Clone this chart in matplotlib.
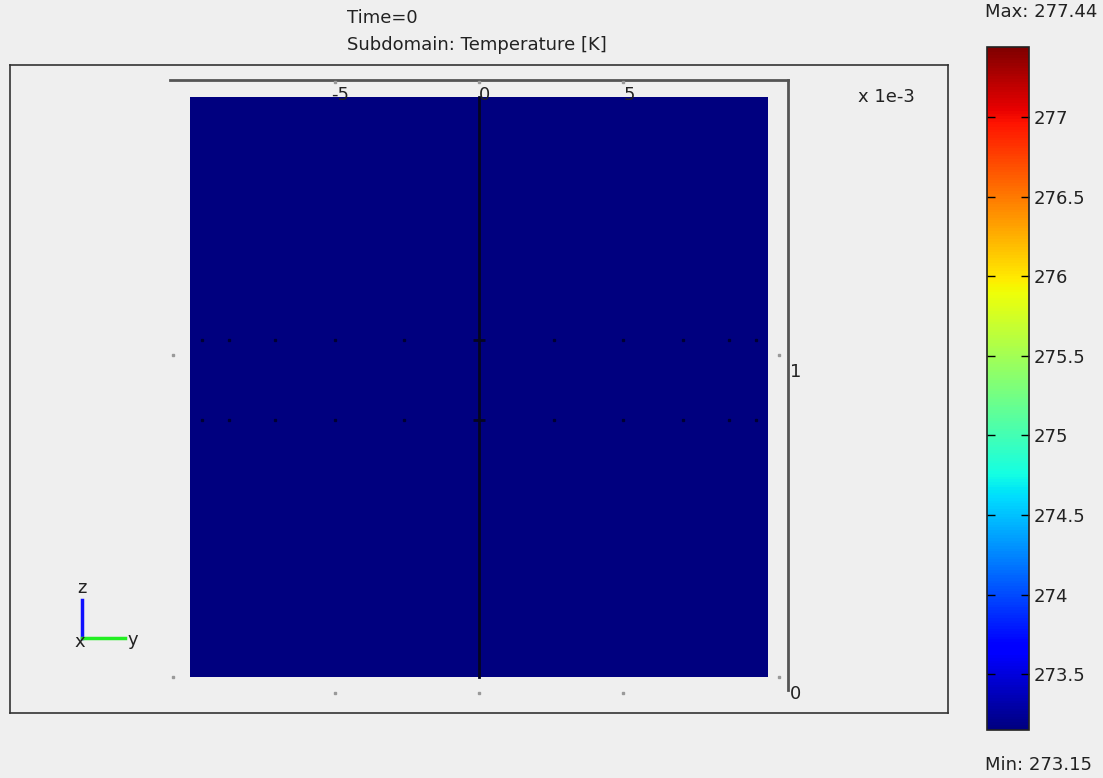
import numpy as np
import matplotlib.pyplot as plt
from matplotlib.lines import Line2D

# subdomain geometry [mm] and temperature field at Time=0
y_extent = [-10, 10]
z_extent = [0, 1.8]
temperature = np.full((2, 2), 273.15)
t_min, t_max = 273.15, 277.44
cbar_ticks = [273.5, 274, 274.5, 275, 275.5, 276, 276.5, 277]
y_ticks = [-5, 0, 5]
z_ticks = [0, 1]
boundary_y = 0
point_y = [-9.6, -8.65, -7.05, -5, -2.6, 2.6, 5, 7.05, 8.65, 9.6]
point_z = [1.047, 0.798]

W, H = 1103, 778
bg = '#efefef'
fs = 13
fig = plt.figure(figsize=(W / 100, H / 100), dpi=100, facecolor=bg)


def frac(x0, y0, x1, y1):
    # pixel box (top-left origin) -> figure fraction
    return [x0 / W, 1 - y1 / H, (x1 - x0) / W, (y1 - y0) / H]


ax = fig.add_axes(frac(10, 65, 948, 713))
ax.set_facecolor(bg)
ax.set_xlim(-16.23, 16.23)
ax.set_ylim(-0.1118, 1.9006)
ax.set_xticks([])
ax.set_yticks([])
for s in ax.spines.values():
    s.set_color('#333333')
    s.set_linewidth(1.2)

im = ax.imshow(temperature, cmap='jet', vmin=t_min, vmax=t_max,
               extent=y_extent + z_extent, origin='lower',
               aspect='auto', interpolation='nearest', zorder=2)

# subdomain boundary and mesh points
ax.plot([boundary_y, boundary_y], z_extent, color='#050520', lw=2, zorder=3)
for z in point_z:
    ax.plot(point_y, [z] * len(point_y), ls='none', marker='s',
            ms=1.4, color='#000033', zorder=3)
    ax.plot([boundary_y], [z], ls='none', marker='_', ms=9, mew=2,
            color='#050520', zorder=3)

# 3D axis box lines
box_y, box_z = 10.7, 1.854
ax.plot([-box_y, box_y], [box_z, box_z], color='#555555', lw=2, zorder=1)
ax.plot([box_y, box_y], [box_z, -0.04], color='#555555', lw=2, zorder=1)

# tick dots
ax.plot(y_ticks, [-0.05] * len(y_ticks), ls='none', marker='s', ms=1.5,
        color='#999999', zorder=1)
ax.plot(y_ticks, [1.847] * len(y_ticks), ls='none', marker='s', ms=1.5,
        color='#999999', zorder=4)
for yy in (-10.59, 10.38):
    ax.plot([yy] * 2, [z_ticks[1], z_ticks[0]], ls='none', marker='s',
            ms=1.5, color='#999999', zorder=1)

for t in y_ticks:
    ax.annotate(f'{t:g}', (t, 1.807), xytext=(4, 0), textcoords='offset points',
                ha='center', va='center', fontsize=fs, color='#222222', zorder=5)
for t in z_ticks:
    ax.annotate(f'{t:g}', (box_y, t), xytext=(1, -12), textcoords='offset points',
                ha='left', va='center', fontsize=fs, color='#222222', zorder=5)

fig.text(858 / W, 1 - 97 / H, 'x 1e-3', fontsize=fs, color='#222222',
         ha='left', va='center')

fig.text(347 / W, 1 - 18 / H, 'Time=0', fontsize=fs, color='#222222',
         ha='left', va='center')
fig.text(347 / W, 1 - 45 / H, 'Subdomain: Temperature [K]', fontsize=fs,
         color='#222222', ha='left', va='center')

# axis triad
ox, oy = 82, 638
fig.add_artist(Line2D([ox / W, ox / W], [1 - oy / H, 1 - 600 / H],
                      color='#1010ff', lw=2.5, transform=fig.transFigure))
fig.add_artist(Line2D([ox / W, 125 / W], [1 - oy / H, 1 - oy / H],
                      color='#22ee22', lw=2.5, transform=fig.transFigure))
fig.text(82 / W, 1 - 588 / H, 'z', fontsize=fs, ha='center', va='center', color='#222222')
fig.text(80 / W, 1 - 642 / H, 'x', fontsize=fs, ha='center', va='center', color='#222222')
fig.text(133 / W, 1 - 640 / H, 'y', fontsize=fs, ha='center', va='center', color='#222222')

# colorbar
cax = fig.add_axes(frac(987, 47, 1029, 730))
cb = fig.colorbar(im, cax=cax)
cb.set_ticks(cbar_ticks)
cb.set_ticklabels([f'{t:g}' for t in cbar_ticks])
cb.outline.set_linewidth(1.2)
cb.outline.set_edgecolor('#222222')
cax.tick_params(direction='in', left=True, right=True, length=6, width=1,
                labelsize=fs, labelcolor='#222222', pad=3)
fig.text(985 / W, 1 - 12 / H, f'Max: {t_max:.2f}', fontsize=fs,
         color='#222222', ha='left', va='center')
fig.text(985 / W, 1 - 765 / H, f'Min: {t_min:.2f}', fontsize=fs,
         color='#222222', ha='left', va='center')

fig.savefig('out.png', dpi=100, facecolor=bg)
